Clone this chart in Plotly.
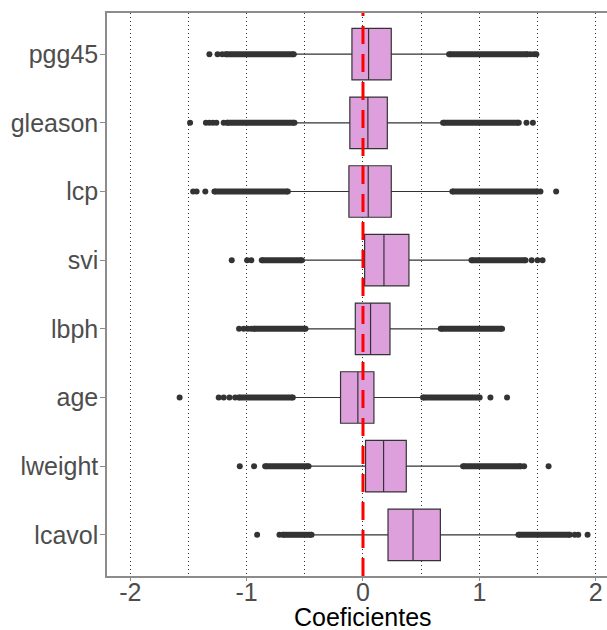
import plotly.graph_objects as go

# Categories (bottom to top)
variables = ["lcavol", "lweight", "age", "lbph", "svi", "lcp", "gleason", "pgg45"]

# Box statistics
q1 = [0.215, 0.022, -0.193, -0.066, 0.014, -0.121, -0.113, -0.095]
median = [0.430, 0.177, -0.044, 0.065, 0.180, 0.045, 0.042, 0.048]
q3 = [0.665, 0.372, 0.094, 0.232, 0.395, 0.243, 0.209, 0.243]
whisker_low = [-0.442, -0.468, -0.603, -0.494, -0.526, -0.646, -0.589, -0.595]
whisker_high = [1.336, 0.860, 0.516, 0.668, 0.932, 0.768, 0.688, 0.740]

# Isolated outlier points per variable
outlier_points = {
    "lcavol": [-0.91, -0.718, 1.82, 1.85, 1.93],
    "lweight": [-1.059, -0.936, 1.385, 1.595],
    "age": [-1.576, -1.24, -1.197, -1.148, -1.099, 1.095, 1.238],
    "lbph": [-1.065, -1.025, -0.99, -0.96],
    "svi": [-1.128, -0.996, -0.96, 1.45, 1.50, 1.543],
    "lcp": [-1.46, -1.43, -1.355, 1.525, 1.66],
    "gleason": [-1.486, -1.35, -1.32, -1.29, -1.26, -1.197, 1.405, 1.46],
    "pgg45": [-1.32, -1.25, -1.21, 1.44, 1.47, 1.49],
}

# Runs of outliers so dense that they merge into a solid band (start, end)
outlier_runs = {
    "lcavol": [(-0.689, -0.442), (1.336, 1.778)],
    "lweight": [(-0.841, -0.468), (0.860, 1.356)],
    "age": [(-1.068, -0.603), (0.516, 1.003)],
    "lbph": [(-0.939, -0.494), (0.668, 1.195)],
    "svi": [(-0.87, -0.526), (0.932, 1.397)],
    "lcp": [(-1.277, -0.646), (0.768, 1.50)],
    "gleason": [(-1.17, -0.589), (0.688, 1.339)],
    "pgg45": [(-1.18, -0.595), (0.740, 1.414)],
}

x_ticks = [-2, -1, 0, 1, 2]
x_title = "Coeficientes"

DARK = "#333333"
FILL = "#DDA0DD"
BORDER = "#8c8c8c"

H, T, B = 630, 13, 54
plot_h = H - T - B

fig = go.Figure()

fig.add_trace(go.Box(
    y=variables, q1=q1, median=median, q3=q3,
    lowerfence=whisker_low, upperfence=whisker_high,
    orientation="h", boxpoints=False, width=0.75, whiskerwidth=0,
    fillcolor=FILL, line=dict(color=DARK, width=1.2), showlegend=False,
    hoverinfo="skip",
))

for var in variables:
    for (a, b) in outlier_runs[var]:
        fig.add_trace(go.Scatter(
            x=[a, b], y=[var, var], mode="lines+markers",
            line=dict(color=DARK, width=6),
            marker=dict(color=DARK, size=6),
            showlegend=False, hoverinfo="skip",
        ))
    pts = outlier_points[var]
    fig.add_trace(go.Scatter(
        x=pts, y=[var] * len(pts), mode="markers",
        marker=dict(color=DARK, size=6),
        showlegend=False, hoverinfo="skip",
    ))

fig.add_shape(type="line", xref="x", yref="paper", x0=0, x1=0, y0=0, y1=1,
              line=dict(color="red", width=3, dash="18px,10px"), layer="above")

fig.add_annotation(
    text=x_title, xref="x", x=0, yref="paper", y=-B / plot_h,
    yanchor="bottom", xanchor="center", showarrow=False, yshift=-3,
    font=dict(size=25, color="black"),
)

fig.update_layout(
    width=607, height=H,
    margin=dict(l=107, r=0, t=T, b=B),
    plot_bgcolor="white", paper_bgcolor="white",
    font=dict(family="Liberation Sans, Arial, sans-serif", color="#4D4D4D"),
    xaxis=dict(
        range=[-2.2, 2.097], tickvals=x_ticks, ticktext=[str(v) for v in x_ticks],
        showgrid=True, gridcolor="#333333", gridwidth=1, griddash="1px,3px",
        minor=dict(tick0=-2, dtick=0.5, showgrid=True, gridcolor="#333333",
                   gridwidth=1, griddash="1px,3px"),
        zeroline=False, showline=True, linecolor=BORDER, linewidth=1.5,
        mirror=True, ticks="outside", ticklen=3, tickcolor=BORDER,
        tickfont=dict(size=25, color="#4D4D4D"), automargin=False,
        ticklabelstandoff=-10,
    ),
    yaxis=dict(
        type="category", categoryorder="array", categoryarray=variables,
        range=[-0.6, 7.6], showgrid=False, zeroline=False,
        showline=True, linecolor=BORDER, linewidth=1.5,
        ticks="outside", ticklen=5, tickcolor=BORDER,
        tickfont=dict(size=25, color="#4D4D4D"), automargin=False,
        ticklabelstandoff=-3,
    ),
)

fig.write_html("out.html")
